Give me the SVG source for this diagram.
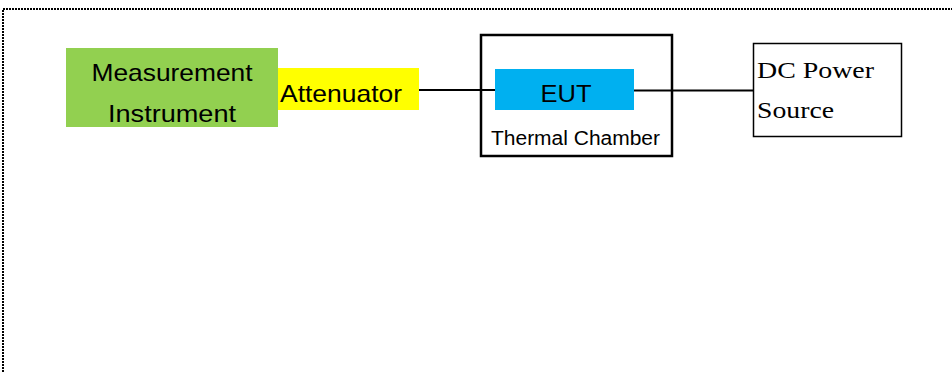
<svg xmlns="http://www.w3.org/2000/svg" width="952" height="372" viewBox="0 0 952 372">
<style>
.sans{font-family:"Liberation Sans",Arial,sans-serif;fill:#000}
.serif{font-family:"Liberation Serif","Times New Roman",serif;fill:#000}
.wire{stroke:#000;stroke-width:2;fill:none}
.border{stroke:#000;stroke-width:2;stroke-dasharray:2 1;fill:none}
</style>
<rect width="952" height="372" fill="#fff"/>
<g id="frame">
<path class="border" d="M3,372 V9 H952"/>
</g>
<g id="connectors">
<line class="wire" x1="419" y1="90" x2="495" y2="90"/>
<line class="wire" x1="632" y1="90.5" x2="753" y2="90.5"/>
</g>
<g id="measurement-instrument">
<rect x="66" y="48" width="212" height="79" fill="#92d050"/>
<text class="sans" x="172" y="81" font-size="24" text-anchor="middle" textLength="161" lengthAdjust="spacingAndGlyphs">Measurement</text>
<text class="sans" x="172" y="122" font-size="24" text-anchor="middle" textLength="128" lengthAdjust="spacingAndGlyphs">Instrument</text>
</g>
<g id="attenuator">
<rect x="278" y="68" width="141" height="42" fill="#ffff00"/>
<text class="sans" x="280" y="102" font-size="24" textLength="122" lengthAdjust="spacingAndGlyphs">Attenuator</text>
</g>
<g id="thermal-chamber">
<rect x="481" y="35" width="191" height="121" fill="none" stroke="#000" stroke-width="2.5"/>
<text class="sans" x="575.5" y="145" font-size="20" text-anchor="middle" textLength="169" lengthAdjust="spacingAndGlyphs">Thermal Chamber</text>
</g>
<g id="eut">
<rect x="495" y="69" width="139" height="41" fill="#00b0f0"/>
<text class="sans" x="566" y="102" font-size="24" text-anchor="middle" textLength="51" lengthAdjust="spacingAndGlyphs">EUT</text>
</g>
<g id="dc-power-source">
<rect x="753.5" y="43.5" width="148" height="93" fill="#fff" stroke="#000" stroke-width="1.5"/>
<text class="serif" x="757" y="78" font-size="24" textLength="117" lengthAdjust="spacingAndGlyphs">DC Power</text>
<text class="serif" x="757" y="118" font-size="24" textLength="77" lengthAdjust="spacingAndGlyphs">Source</text>
</g>
</svg>
